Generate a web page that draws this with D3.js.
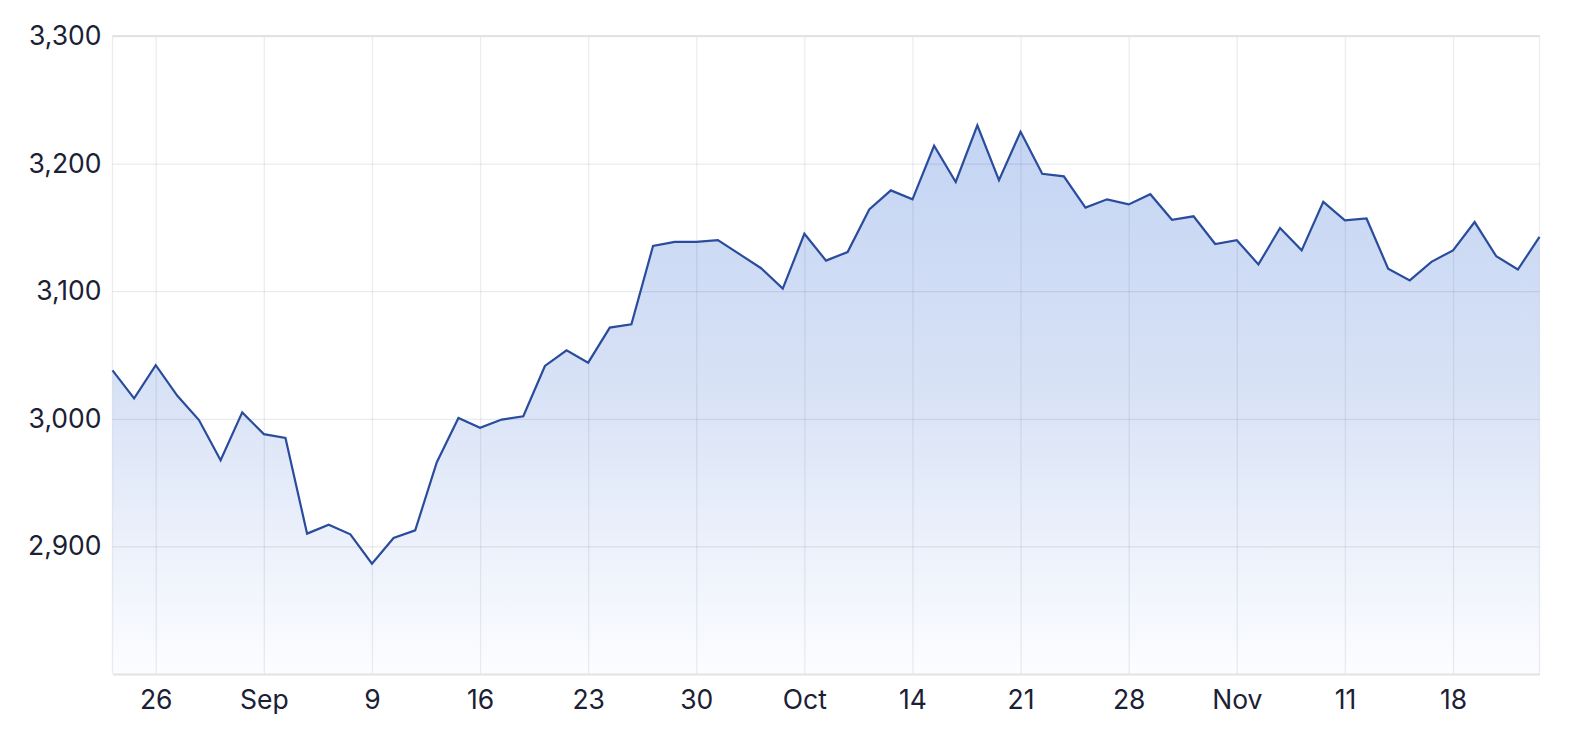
<!DOCTYPE html>
<html>
<head>
<meta charset="utf-8">
<script src="https://cdn.jsdelivr.net/npm/d3@7"></script>
<style>
  body { margin: 0; background: #ffffff; }
  svg { display: block; }
  .tick text { font-family: Inter, "Noto Sans", sans-serif; font-size: 26.5px; fill: #1b2034; }
</style>
</head>
<body>
<script>
// trading days, Aug 22 - Nov 22 2019
var dates = [
  "2019-08-22", "2019-08-23",
  "2019-08-26", "2019-08-27", "2019-08-28", "2019-08-29", "2019-08-30",
  "2019-09-02", "2019-09-03", "2019-09-04", "2019-09-05", "2019-09-06",
  "2019-09-09", "2019-09-10", "2019-09-11", "2019-09-12", "2019-09-13",
  "2019-09-16", "2019-09-17", "2019-09-18", "2019-09-19", "2019-09-20",
  "2019-09-23", "2019-09-24", "2019-09-25", "2019-09-26", "2019-09-27",
  "2019-09-30", "2019-10-01", "2019-10-02", "2019-10-03", "2019-10-04",
  "2019-10-07", "2019-10-08", "2019-10-09", "2019-10-10", "2019-10-11",
  "2019-10-14", "2019-10-15", "2019-10-16", "2019-10-17", "2019-10-18",
  "2019-10-21", "2019-10-22", "2019-10-23", "2019-10-24", "2019-10-25",
  "2019-10-28", "2019-10-29", "2019-10-30", "2019-10-31", "2019-11-01",
  "2019-11-04", "2019-11-05", "2019-11-06", "2019-11-07", "2019-11-08",
  "2019-11-11", "2019-11-12", "2019-11-13", "2019-11-14", "2019-11-15",
  "2019-11-18", "2019-11-19", "2019-11-20", "2019-11-21", "2019-11-22"
];

var values = [
  3038, 3016,
  3042, 3018, 2999, 2967.5, 3005,
  2988, 2985, 2910, 2917, 2909.5,
  2886.5, 2906.6, 2912.6, 2966, 3000.6,
  2993, 2999.4, 3002, 3041.4, 3053.7,
  3044, 3071.5, 3074, 3135.4, 3138.6,
  3138.6, 3140, 3129, 3118, 3102,
  3145, 3124, 3130.7, 3164, 3179,
  3172, 3214, 3185.6, 3230, 3187,
  3225, 3192, 3190, 3165.5, 3172,
  3168, 3176, 3156, 3158.7, 3137,
  3140, 3121, 3149.5, 3132, 3170,
  3155.6, 3157, 3117.7, 3108.5, 3123,
  3132, 3154.2, 3127.4, 3117, 3142.5
];

var tickDates = ["2019-08-26", "2019-09-02", "2019-09-09", "2019-09-16", "2019-09-23",
  "2019-09-30", "2019-10-07", "2019-10-14", "2019-10-21", "2019-10-28",
  "2019-11-04", "2019-11-11", "2019-11-18"];
var tickLabels = ["26", "Sep", "9", "16", "23", "30", "Oct", "14", "21", "28", "Nov", "11", "18"];

var yTicks = [2900, 3000, 3100, 3200, 3300];

var data = dates.map(function(d, i) {
  return { date: d, value: values[i] };
});

var width = 1578, height = 730;
var margin = { top: 36, right: 38.5, bottom: 56, left: 112.5 };

var svg = d3.select("body").append("svg")
  .attr("width", width)
  .attr("height", height);

var x = d3.scalePoint()
  .domain(dates)
  .range([margin.left, width - margin.right]);

var y = d3.scaleLinear()
  .domain([2800, 3300])
  .range([height - margin.bottom, margin.top]);

var defs = svg.append("defs");
var grad = defs.append("linearGradient")
  .attr("id", "areaFill")
  .attr("gradientUnits", "userSpaceOnUse")
  .attr("x1", 0).attr("x2", 0)
  .attr("y1", y(3300)).attr("y2", y(2800));
grad.append("stop").attr("offset", "0%").attr("stop-color", "#bccff2");
grad.append("stop").attr("offset", "55%").attr("stop-color", "#d8e2f6");
grad.append("stop").attr("offset", "100%").attr("stop-color", "#fcfdff");

var area = d3.area()
  .x(function(d) { return x(d.date); })
  .y0(y(2800))
  .y1(function(d) { return y(d.value); });

var line = d3.line()
  .x(function(d) { return x(d.date); })
  .y(function(d) { return y(d.value); });

svg.append("path")
  .datum(data)
  .attr("fill", "url(#areaFill)")
  .attr("d", area);

// gridlines, drawn over the fill
var gridY = svg.append("g")
  .attr("transform", "translate(" + margin.left + ",0)")
  .call(d3.axisLeft(y)
    .tickValues(yTicks)
    .tickSize(-(width - margin.left - margin.right))
    .tickFormat(""));
gridY.select(".domain").remove();
gridY.selectAll("line")
  .attr("stroke", "rgba(20,30,60,0.09)")
  .attr("stroke-width", 1.3);

var gridX = svg.append("g")
  .attr("transform", "translate(0," + margin.top + ")")
  .call(d3.axisBottom(x)
    .tickValues(tickDates)
    .tickSize(height - margin.top - margin.bottom)
    .tickFormat(""));
gridX.select(".domain").remove();
gridX.selectAll("line")
  .attr("stroke", "rgba(20,30,60,0.08)")
  .attr("stroke-width", 1.3);

// frame: left, right and top edges
svg.append("g").selectAll("line")
  .data([dates[0], dates[dates.length - 1]])
  .enter()
  .append("line")
  .attr("x1", function(d) { return x(d); })
  .attr("x2", function(d) { return x(d); })
  .attr("y1", y(3300))
  .attr("y2", y(2800))
  .attr("stroke", "rgba(20,30,60,0.08)")
  .attr("stroke-width", 1.3);

svg.append("line")
  .attr("x1", x(dates[0]))
  .attr("x2", x(dates[dates.length - 1]))
  .attr("y1", y(3300))
  .attr("y2", y(3300))
  .attr("stroke", "#e2e2e4")
  .attr("stroke-width", 2);

svg.append("path")
  .datum(data)
  .attr("fill", "none")
  .attr("stroke", "#2a4c9c")
  .attr("stroke-width", 2.2)
  .attr("stroke-linejoin", "miter")
  .attr("d", line);

// axes with labels
var xAxis = svg.append("g")
  .attr("transform", "translate(0," + y(2800) + ")")
  .call(d3.axisBottom(x)
    .tickValues(tickDates)
    .tickSize(0)
    .tickPadding(16)
    .tickFormat(function(d) { return tickLabels[tickDates.indexOf(d)]; }));
xAxis.select(".domain")
  .attr("stroke", "#e2e2e4")
  .attr("stroke-width", 2);
xAxis.selectAll("text").attr("dy", "0.71em");

var yAxis = svg.append("g")
  .attr("transform", "translate(" + margin.left + ",0)")
  .call(d3.axisLeft(y)
    .tickValues(yTicks)
    .tickSize(0)
    .tickPadding(11)
    .tickFormat(d3.format(",")));
yAxis.select(".domain").remove();
</script>
</body>
</html>
